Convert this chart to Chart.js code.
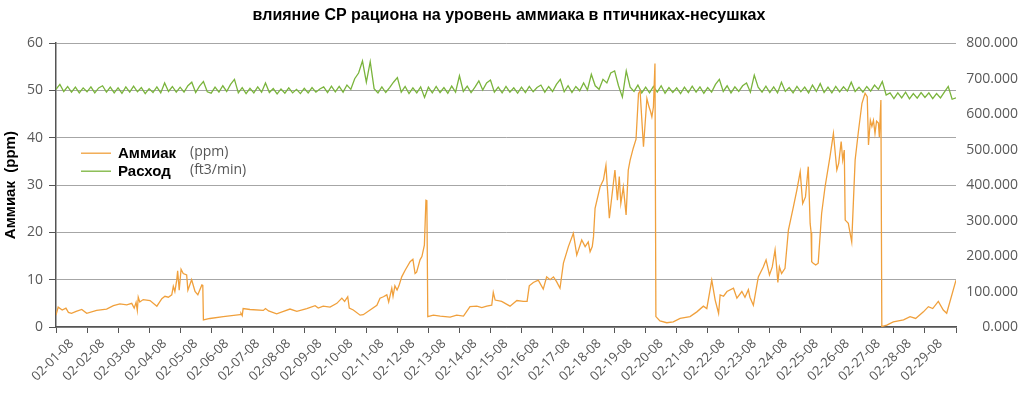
<!DOCTYPE html>
<html>
<head>
<meta charset="utf-8">
<script src="https://cdn.jsdelivr.net/npm/chart.js@4/dist/chart.umd.min.js"></script>
<style>
  html, body { margin: 0; padding: 0; background: #fff; }
  #wrap { width: 1024px; height: 393px; }
</style>
</head>
<body>
<div id="wrap"><canvas id="ammoniaChart"></canvas></div>
<script>
// подписи дней по оси X
const dayLabels = [
  "02-01-08", "02-02-08", "02-03-08", "02-04-08", "02-05-08", "02-06-08", "02-07-08",
  "02-08-08", "02-09-08", "02-10-08", "02-11-08", "02-12-08", "02-13-08", "02-14-08",
  "02-15-08", "02-16-08", "02-17-08", "02-18-08", "02-19-08", "02-20-08", "02-21-08",
  "02-22-08", "02-23-08", "02-24-08", "02-25-08", "02-26-08", "02-27-08", "02-28-08",
  "02-29-08"
];

// Аммиак: время (в днях от 02-01) и значение ppm
const ammoniaDays = [
  0.00, 0.07, 0.20, 0.32, 0.40, 0.50, 0.65, 0.83, 0.99, 1.31, 1.63, 1.85, 2.06, 2.28,
  2.44, 2.52, 2.58, 2.62, 2.65, 2.70, 2.81, 3.03, 3.25, 3.41, 3.51, 3.62, 3.73, 3.78,
  3.83, 3.89, 3.92, 3.97, 4.03, 4.10, 4.21, 4.25, 4.37, 4.48, 4.57, 4.70, 4.73, 4.75,
  4.96, 5.39, 5.93, 5.96, 6.00, 6.03, 6.25, 6.68, 6.75, 6.85, 7.11, 7.33, 7.54, 7.76,
  8.08, 8.35, 8.45, 8.61, 8.83, 9.05, 9.21, 9.30, 9.40, 9.45, 9.58, 9.80, 9.90, 10.12,
  10.34, 10.44, 10.55, 10.66, 10.72, 10.82, 10.86, 10.92, 10.99, 11.05, 11.14, 11.25,
  11.41, 11.50, 11.57, 11.62, 11.73, 11.79, 11.87, 11.92, 11.95, 11.98, 12.16, 12.38,
  12.70, 12.91, 13.13, 13.34, 13.56, 13.72, 13.88, 14.04, 14.09, 14.15, 14.36, 14.63,
  14.85, 15.06, 15.18, 15.25, 15.38, 15.54, 15.70, 15.81, 15.92, 16.03, 16.13, 16.24,
  16.35, 16.51, 16.67, 16.78, 16.94, 17.05, 17.15, 17.21, 17.28, 17.32, 17.37, 17.53,
  17.64, 17.72, 17.83, 17.96, 18.01, 18.09, 18.15, 18.20, 18.28, 18.37, 18.44, 18.50,
  18.60, 18.69, 18.77, 18.82, 18.93, 19.04, 19.11, 19.16, 19.20, 19.25, 19.30, 19.33,
  19.46, 19.68, 19.89, 20.11, 20.43, 20.65, 20.86, 20.97, 21.13, 21.24, 21.35, 21.40,
  21.51, 21.62, 21.83, 21.94, 22.10, 22.20, 22.31, 22.36, 22.47, 22.63, 22.79, 22.88,
  22.99, 23.08, 23.17, 23.22, 23.26, 23.31, 23.38, 23.49, 23.60, 23.76, 23.87, 23.98,
  24.06, 24.15, 24.24, 24.30, 24.33, 24.35, 24.40, 24.48, 24.56, 24.67, 24.78, 24.94,
  25.05, 25.16, 25.22, 25.30, 25.35, 25.40, 25.43, 25.53, 25.64, 25.75, 25.86, 25.97,
  26.07, 26.14, 26.18, 26.24, 26.29, 26.34, 26.39, 26.44, 26.50, 26.53, 26.58, 26.61,
  26.77, 26.98, 27.31, 27.52, 27.70, 27.95, 28.11, 28.25, 28.43, 28.59, 28.70, 29.00
];
const ammoniaPpm = [
  2.5, 4.2, 3.6, 4.0, 3.1, 2.9, 3.3, 3.7, 2.9, 3.5, 3.8, 4.5, 4.9, 4.7,
  5.0, 4.0, 5.2, 3.5, 6.3, 5.3, 5.8, 5.6, 4.4, 6.0, 6.5, 6.3, 6.8, 8.6,
  7.5, 9.9, 11.9, 7.8, 12.2, 11.3, 11.0, 7.8, 10.0, 7.5, 6.8, 8.9, 8.8, 1.5,
  1.8, 2.2, 2.6, 2.9, 2.4, 3.9, 3.7, 3.5, 3.9, 3.4, 2.8, 3.3, 3.8, 3.3,
  3.9, 4.5, 4.0, 4.4, 4.2, 5.0, 6.1, 5.4, 6.4, 4.0, 3.6, 2.5, 2.6, 3.6,
  4.6, 6.1, 6.4, 6.8, 5.3, 8.2, 6.5, 8.7, 7.8, 8.7, 10.6, 12.0,
  13.8, 14.3, 11.3, 11.6, 14.2, 14.9, 17.3, 26.8, 26.7, 2.2, 2.5, 2.3,
  2.1, 2.5, 2.3, 4.3, 4.4, 4.1, 4.4, 4.6, 7.3, 5.7, 5.4, 4.4,
  5.6, 5.4, 5.4, 8.7, 9.4, 9.9, 8.0, 10.6, 10.0, 10.6, 9.6, 8.2,
  13.5, 17.0, 19.8, 15.2, 18.4, 17.0, 18.0, 15.9, 17.0, 19.1, 25.1, 29.6,
  31.1, 34.2, 23.0, 30.4, 33.2, 26.8, 31.8, 26.1, 29.6, 23.7, 33.2, 35.3,
  37.8, 39.7, 49.4, 49.9, 38.1, 48.3, 46.5, 45.5, 44.4, 46.5, 55.7, 2.2,
  1.3, 0.9, 1.1, 1.8, 2.2, 3.2, 4.4, 3.9, 9.9, 5.7, 2.9, 6.8,
  6.5, 7.5, 8.2, 6.1, 7.5, 6.3, 7.9, 6.3, 4.6, 10.6, 12.7, 14.2,
  11.0, 12.7, 16.3, 12.7, 9.4, 12.7, 11.3, 12.4, 20.5, 25.4, 28.9, 32.8,
  26.1, 27.5, 33.9, 21.9, 20.1, 13.8, 13.5, 13.1, 13.5, 24.0, 29.6, 36.0,
  40.9, 33.2, 34.6, 39.2, 35.3, 37.4, 22.6, 21.9, 18.0, 35.3, 41.6, 47.3,
  49.4, 48.7, 38.5, 43.7, 42.4, 43.7, 40.9, 43.5, 43.1, 40.2, 48.0, 0.1,
  0.4, 1.1, 1.5, 2.2, 1.8, 3.2, 4.3, 3.9, 5.4, 3.6, 2.9, 9.9
];

// Расход: замер каждые 3 часа (8 в сутки), ft3/min
const flowStepDays = 1 / 8;
const flowValues = [
  670, 684, 664, 678, 662, 676, 660, 674,
  663, 677, 660, 674, 680, 662, 676, 660,
  674, 659, 677, 662, 679, 663, 675, 658,
  672, 661, 677, 660, 688, 664, 678, 662,
  676, 662, 680, 690, 661, 679, 692, 663,
  659, 676, 662, 680, 664, 684, 698, 660,
  675, 658, 673, 660, 677, 662, 688, 661,
  672, 657, 671, 659, 674, 660, 670, 658,
  673, 660, 675, 662, 671, 677, 661, 679,
  663, 678, 662, 682, 670, 700, 716, 750,
  690, 748, 672, 660, 677, 661, 675, 690,
  703, 662, 678, 658, 674, 660, 677, 647,
  676, 660, 678, 661, 675, 659, 679, 662,
  708, 664, 679, 661, 676, 694, 668, 688,
  696, 662, 676, 660, 678, 662, 674, 659,
  676, 661, 678, 663, 675, 682, 662, 678,
  664, 684, 698, 663, 680, 661, 678, 666,
  688, 668, 712, 680, 670, 698, 688, 716,
  722, 680, 648, 722, 676, 664, 682, 660,
  676, 660, 678, 662, 680, 659, 675, 661,
  674, 658, 676, 661, 679, 662, 677, 659,
  675, 662, 684, 698, 664, 680, 660, 677,
  664, 680, 688, 662, 710, 676, 662, 679,
  661, 677, 660, 690, 664, 675, 660, 678,
  663, 676, 660, 682, 664, 686, 661, 676,
  660, 678, 663, 677, 665, 690, 664, 676,
  662, 678, 665, 682, 670, 692, 654, 660,
  644, 660, 646, 662, 643, 658, 645, 661,
  647, 660, 644, 658, 646, 662, 678, 642,
  646
];

const ammoniaColor = "#f0a03c";
const flowColor = "#7ab43c";
const tickFont = { family: "Open Sans", size: 14 };

// легенда внутри области графика (жирное название + единицы)
const insideLegend = {
  id: "insideLegend",
  afterDraw(chart) {
    const ctx = chart.ctx;
    const a = chart.chartArea;
    const rows = [
      { name: "Аммиак", unit: "(ppm)", color: ammoniaColor, y: a.top + 110 },
      { name: "Расход", unit: "(ft3/min)", color: flowColor, y: a.top + 128 },
    ];
    ctx.save();
    rows.forEach((r) => {
      ctx.strokeStyle = r.color;
      ctx.lineWidth = 1.3;
      ctx.beginPath();
      ctx.moveTo(a.left + 25, r.y);
      ctx.lineTo(a.left + 55, r.y);
      ctx.stroke();
      ctx.textBaseline = "middle";
      ctx.fillStyle = "#000";
      ctx.font = "bold 15px 'Liberation Sans'";
      ctx.fillText(r.name, a.left + 62, r.y + 1);
      ctx.fillStyle = "#555";
      ctx.font = "14px 'Open Sans'";
      ctx.fillText(r.unit, a.left + 134, r.y - 1);
    });
    ctx.restore();
  },
};

const ctx = document.getElementById("ammoniaChart").getContext("2d");
new Chart(ctx, {
  type: "line",
  data: {
    datasets: [
      {
        label: "Аммиак (ppm)",
        data: ammoniaDays.map((d, i) => ({ x: d, y: ammoniaPpm[i] })),
        borderColor: ammoniaColor,
        borderWidth: 1.3,
        pointRadius: 0,
        tension: 0,
        xAxisID: "x",
        yAxisID: "y",
      },
      {
        label: "Расход (ft3/min)",
        data: flowValues.map((v, i) => ({ x: i * flowStepDays, y: v })),
        borderColor: flowColor,
        borderWidth: 1.3,
        pointRadius: 0,
        tension: 0,
        xAxisID: "x",
        yAxisID: "y2",
      },
    ],
  },
  options: {
    responsive: true,
    maintainAspectRatio: false,
    animation: false,
    layout: { padding: { left: 0, right: 6, top: 0, bottom: 0 } },
    plugins: {
      legend: { display: false },
      tooltip: { enabled: false },
      title: {
        display: true,
        text: "влияние CP рациона на уровень аммиака в птичниках-несушках",
        font: { family: "Liberation Sans", size: 16, weight: "bold" },
        color: "#000",
        padding: { top: 6, bottom: 18 },
      },
    },
    scales: {
      x: {
        type: "linear",
        display: false,
        min: 0,
        max: 29,
      },
      days: {
        type: "category",
        position: "bottom",
        labels: dayLabels,
        offset: true,
        grid: {
          offset: true,
          drawOnChartArea: false,
          tickLength: 6,
          color: "#555",
        },
        border: { color: "#555", width: 1.5 },
        ticks: {
          minRotation: 45,
          maxRotation: 45,
          autoSkip: false,
          font: { family: "Open Sans", size: 13 },
          color: "#555",
        },
        afterFit: (s) => { s.height = 66; },
      },
      y: {
        position: "left",
        min: 0,
        max: 60,
        ticks: { stepSize: 10, font: tickFont, color: "#595959", padding: 6 },
        grid: { color: "#a6a6a6", tickColor: "#555", tickLength: 7 },
        border: { color: "#555", width: 1.5 },
        title: {
          display: true,
          text: "Аммиак  (ppm)",
          font: { family: "Liberation Sans", size: 15, weight: "bold" },
          color: "#000",
          padding: { top: 2, bottom: 0 },
        },
        afterFit: (s) => { s.width = 56; },
      },
      y2: {
        position: "right",
        min: 0,
        max: 800,
        ticks: {
          stepSize: 100,
          font: tickFont,
          color: "#595959",
          crossAlign: "far",
          callback: (v) => v.toFixed(3),
        },
        grid: { drawOnChartArea: false, drawTicks: false },
        border: { display: false },
        afterFit: (s) => { s.width = 62; },
      },
    },
  },
  plugins: [insideLegend],
});
</script>
</body>
</html>
